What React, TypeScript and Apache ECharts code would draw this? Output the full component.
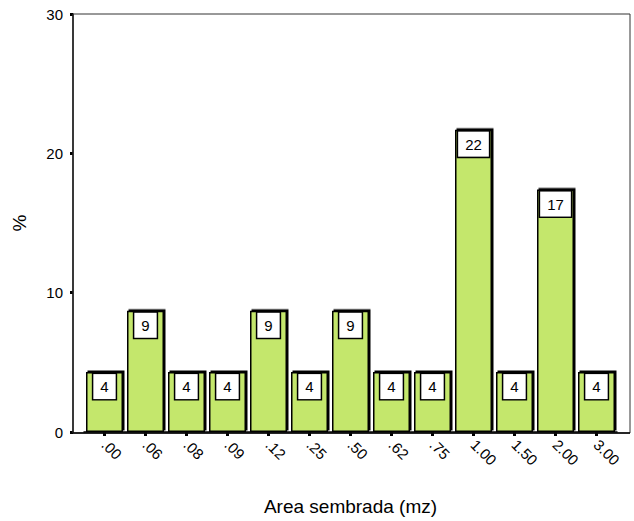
import React, { useEffect, useRef } from "react";
import * as echarts from "echarts";

const categories = [".00", ".06", ".08", ".09", ".12", ".25", ".50", ".62", ".75", "1.00", "1.50", "2.00", "3.00"];
const percents = [4.3, 8.7, 4.3, 4.3, 8.7, 4.3, 8.7, 4.3, 4.3, 21.7, 4.3, 17.4, 4.3];
const yTicks = { min: 0, max: 30, interval: 10 };

const W = 634;
const H = 521;
const GRID = { left: 84, right: 17, top: 14, bottom: 88 };
const PAD_L = 11;
const PAD_R = 13;
const FONT = "'Liberation Sans', Arial, Helvetica, sans-serif";

export default function App() {
  const ref = useRef<HTMLDivElement>(null);
  useEffect(() => {
    if (!ref.current) return;
    const chart = echarts.init(ref.current, null, { renderer: "svg" });
    const frameX = GRID.left - PAD_L;
    const frameW = W - GRID.right + PAD_R - frameX;
    const frameH = H - GRID.bottom - GRID.top;
    chart.setOption({
      animation: false,
      backgroundColor: "#ffffff",
      textStyle: { fontFamily: FONT },
      grid: { left: GRID.left, right: GRID.right, top: GRID.top, bottom: GRID.bottom },
      graphic: [
        {
          type: "rect",
          shape: { x: frameX, y: GRID.top, width: frameW, height: frameH },
          style: { fill: "none", stroke: "#333", lineWidth: 1 },
          z: 1,
        },
        {
          type: "line",
          shape: { x1: frameX, y1: GRID.top + frameH, x2: frameX + frameW, y2: GRID.top + frameH },
          style: { stroke: "#000", lineWidth: 1.5 },
          z: 5,
        },
      ],
      xAxis: {
        type: "category",
        data: categories,
        name: "Area sembrada (mz)",
        nameLocation: "middle",
        nameGap: 65,
        nameTextStyle: { fontSize: 19, color: "#000", fontFamily: FONT },
        axisLine: { show: true, lineStyle: { color: "#000", width: 1.5 } },
        axisTick: { show: true, alignWithLabel: true, length: 4, lineStyle: { color: "#000", width: 3 } },
        axisLabel: { rotate: -45, fontSize: 15, color: "#000", margin: 10, fontFamily: FONT, interval: 0 },
        splitLine: { show: false },
      },
      yAxis: {
        type: "value",
        min: yTicks.min,
        max: yTicks.max,
        interval: yTicks.interval,
        offset: PAD_L,
        name: "%",
        nameLocation: "middle",
        nameGap: 44,
        nameRotate: 90,
        nameTextStyle: { fontSize: 19, color: "#000", fontFamily: FONT },
        axisLine: { show: true, lineStyle: { color: "#000", width: 1.5 } },
        axisTick: { show: true, length: 3, lineStyle: { color: "#000", width: 3 } },
        axisLabel: { fontSize: 15, color: "#000", margin: 10, fontFamily: FONT },
        splitLine: { show: false },
      },
      series: [
        {
          type: "bar",
          data: percents,
          barWidth: 37,
          itemStyle: {
            color: "#c4e76c",
            borderColor: "#000",
            borderWidth: 1.5,
            shadowColor: "#000",
            shadowBlur: 0,
            shadowOffsetX: 1.5,
            shadowOffsetY: -1.5,
          },
          label: {
            show: true,
            position: "insideTop",
            distance: 2,
            formatter: (p: any) => String(Math.round(p.value)),
            fontSize: 15,
            lineHeight: 15,
            color: "#000",
            fontFamily: FONT,
            backgroundColor: "#fff",
            borderColor: "#000",
            borderWidth: 1.5,
            padding: [5, 7, 5, 7],
          },
          z: 3,
        },
      ],
    });
    return () => chart.dispose();
  }, []);
  return <div ref={ref} style={{ position: "fixed", left: 0, top: 0, width: W, height: H }} />;
}
